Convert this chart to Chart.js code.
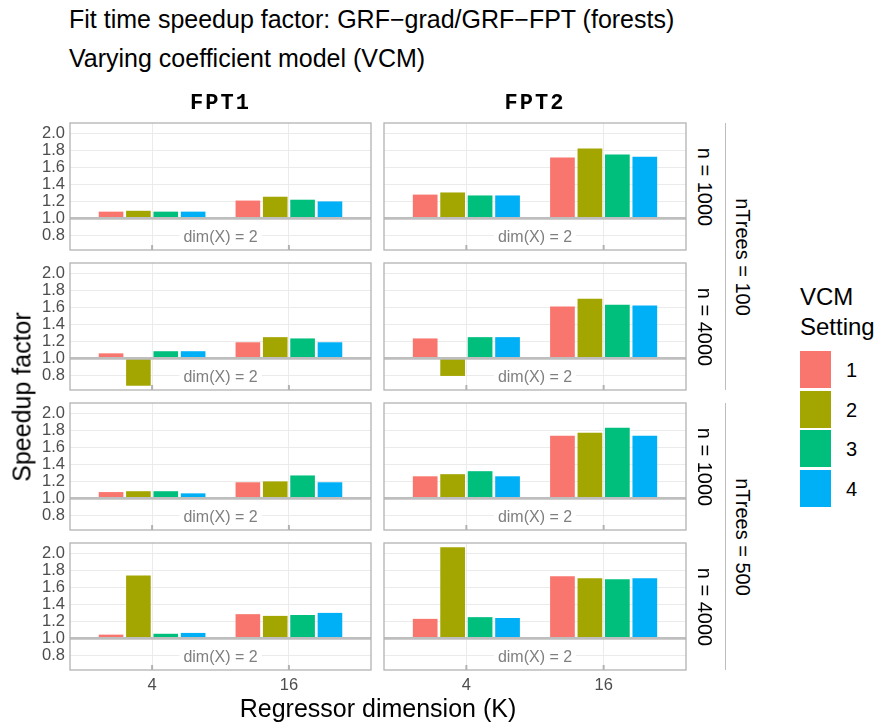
<!DOCTYPE html>
<html><head><meta charset="utf-8">
<script src="https://cdn.jsdelivr.net/npm/chart.js@4"></script>
<style>
html,body{margin:0;padding:0;background:#fff;}
#wrap{position:relative;width:878px;height:726px;overflow:hidden;background:#fff;font-family:"Liberation Sans",Arial,sans-serif;color:#000;}
canvas{position:absolute;}
.t{position:absolute;white-space:nowrap;line-height:1;}
</style></head><body><div id="wrap"></div>
<script>
// ---- data ----
const kCategories = ['4', '16'];
const vcmSettings = ['1', '2', '3', '4'];
const settingColors = ['#F8766D', '#A3A500', '#00BF7D', '#00B0F6'];
const methodLabels = ['FPT1', 'FPT2'];
const nLabels = ['n = 1000', 'n = 4000', 'n = 1000', 'n = 4000'];
const treeLabels = ['nTrees = 100', 'nTrees = 500'];
const yTickValues = [0.8, 1.0, 1.2, 1.4, 1.6, 1.8, 2.0];
const panelNote = 'dim(X) = 2';

// speedup factor, one value per VCM setting 1..4
const t100_n1000_FPT1_K4  = [1.08, 1.09, 1.08, 1.08];
const t100_n1000_FPT1_K16 = [1.21, 1.255, 1.22, 1.20];
const t100_n1000_FPT2_K4  = [1.28, 1.305, 1.27, 1.27];
const t100_n1000_FPT2_K16 = [1.715, 1.82, 1.75, 1.725];
const t100_n4000_FPT1_K4  = [1.06, 0.68, 1.085, 1.085];
const t100_n4000_FPT1_K16 = [1.19, 1.25, 1.235, 1.19];
const t100_n4000_FPT2_K4  = [1.235, 0.795, 1.25, 1.25];
const t100_n4000_FPT2_K16 = [1.61, 1.70, 1.63, 1.62];
const t500_n1000_FPT1_K4  = [1.075, 1.085, 1.085, 1.06];
const t500_n1000_FPT1_K16 = [1.19, 1.20, 1.27, 1.19];
const t500_n1000_FPT2_K4  = [1.26, 1.285, 1.32, 1.26];
const t500_n1000_FPT2_K16 = [1.735, 1.77, 1.83, 1.735];
const t500_n4000_FPT1_K4  = [1.045, 1.74, 1.055, 1.065];
const t500_n4000_FPT1_K16 = [1.285, 1.265, 1.275, 1.30];
const t500_n4000_FPT2_K4  = [1.23, 2.07, 1.25, 1.24];
const t500_n4000_FPT2_K16 = [1.73, 1.705, 1.695, 1.705];

const panels = [
  [[t100_n1000_FPT1_K4, t100_n1000_FPT1_K16], [t100_n1000_FPT2_K4, t100_n1000_FPT2_K16]],
  [[t100_n4000_FPT1_K4, t100_n4000_FPT1_K16], [t100_n4000_FPT2_K4, t100_n4000_FPT2_K16]],
  [[t500_n1000_FPT1_K4, t500_n1000_FPT1_K16], [t500_n1000_FPT2_K4, t500_n1000_FPT2_K16]],
  [[t500_n4000_FPT1_K4, t500_n4000_FPT1_K16], [t500_n4000_FPT2_K4, t500_n4000_FPT2_K16]]
];

// ---- layout ----
const FONT = '"Liberation Sans", Arial, sans-serif';
const rowTops = [123, 263, 403, 543];
const panelH = 127;
const colLeft = [70, 384];
const colW = [301, 302];
const PAD = 16;
const wrap = document.getElementById('wrap');

const panelDeco = {
  id: 'panelDeco',
  afterDatasetsDraw(chart) {
    const {ctx, chartArea: a, scales: {x, y}} = chart;
    ctx.save();
    // reference line at 1
    const yb = y.getPixelForValue(1);
    ctx.strokeStyle = '#BEBEBE'; ctx.lineWidth = 2.7;
    ctx.beginPath(); ctx.moveTo(a.left, yb); ctx.lineTo(a.right, yb); ctx.stroke();
    // note label
    ctx.font = '16px ' + FONT;
    const tx = x.getPixelForValue(1.5), ty = y.getPixelForValue(0.785);
    const w = ctx.measureText(panelNote).width;
    ctx.fillStyle = '#fff';
    ctx.fillRect(tx - w / 2 - 4, ty - 9, w + 8, 18);
    ctx.fillStyle = '#7F7F7F'; ctx.textAlign = 'center'; ctx.textBaseline = 'middle';
    ctx.fillText(panelNote, tx, ty + 1);
    // inner tick marks
    ctx.strokeStyle = '#B3B3B3'; ctx.lineWidth = 2;
    kCategories.forEach((k, j) => {
      const px = x.getPixelForValue(j + 1);
      ctx.beginPath(); ctx.moveTo(px, a.bottom); ctx.lineTo(px, a.bottom - 5); ctx.stroke();
    });
    // panel border
    ctx.strokeStyle = '#B3B3B3'; ctx.lineWidth = 1.3;
    ctx.strokeRect(a.left, a.top, a.right - a.left, a.bottom - a.top);
    ctx.restore();
  }
};

for (let r = 0; r < 4; r++) {
  for (let c = 0; c < 2; c++) {
    const cv = document.createElement('canvas');
    const padL = c === 0 ? 0 : 2;
    const axisW = c === 0 ? 70 : 0;
    const canvasLeft = colLeft[c] - axisW - padL;
    const bottomAxisH = r === 3 ? 30 : 0;
    const W = padL + axisW + colW[c] + 2;
    const H = PAD + panelH + bottomAxisH + PAD;
    cv.width = W; cv.height = H;
    cv.style.left = canvasLeft + 'px';
    cv.style.top = (rowTops[r] - PAD) + 'px';
    wrap.appendChild(cv);
    const vals = panels[r][c];
    const datasets = vcmSettings.map((s, i) => ({
      label: s,
      data: kCategories.map((k, j) => ({x: j + 1, y: vals[j][i]})),
      backgroundColor: settingColors[i],
      borderWidth: 0,
      base: 1,
      categoryPercentage: 0.8,
      barPercentage: 0.9
    }));
    new Chart(cv, {
      type: 'bar',
      data: {datasets},
      options: {
        responsive: false, animation: false, devicePixelRatio: 1,
        layout: {padding: {top: PAD, bottom: PAD, left: padL, right: 2}},
        plugins: {legend: {display: false}, tooltip: {enabled: false}, title: {display: false}},
        scales: {
          x: {
            type: 'linear', min: 0.4, max: 2.6, offset: false,
            grid: {offset: false, color: '#EBEBEB', lineWidth: 1, drawTicks: false},
            border: {display: false},
            afterBuildTicks: s => { s.ticks = kCategories.map((k, j) => ({value: j + 1})); },
            ticks: {display: r === 3, autoSkip: false, maxRotation: 0, padding: 6, color: '#4D4D4D',
                    font: {size: 16.5, family: FONT},
                    callback: v => kCategories[Math.round(v) - 1] ?? ''},
            afterFit: s => { s.height = bottomAxisH; }
          },
          y: {
            min: 0.63, max: 2.12,
            grid: {color: '#EBEBEB', lineWidth: 1, drawTicks: false},
            border: {display: false},
            afterBuildTicks: s => { s.ticks = yTickValues.map(v => ({value: v})); },
            ticks: {display: c === 0, autoSkip: false, padding: 5, color: '#4D4D4D', font: {size: 16.5, family: FONT},
                    callback: v => Number(v).toFixed(1)},
            afterFit: s => { s.width = axisW; }
          }
        }
      },
      plugins: [panelDeco]
    });
  }
}

// ---- text & decorations ----
function addText(txt, x, y, size, opts = {}) {
  const d = document.createElement('div');
  d.className = 't';
  d.textContent = txt;
  d.style.fontSize = size + 'px';
  d.style.left = x + 'px';
  d.style.top = y + 'px';
  if (opts.family) d.style.fontFamily = opts.family;
  if (opts.weight) d.style.fontWeight = opts.weight;
  if (opts.color) d.style.color = opts.color;
  if (opts.ls) d.style.letterSpacing = opts.ls;
  const tx = opts.left ? '0' : '-50%';
  d.style.transform = `translate(${tx},-50%)` + (opts.rot ? ` rotate(${opts.rot}deg)` : '');
  wrap.appendChild(d);
  return d;
}
function addBox(x, y, w, h, color) {
  const d = document.createElement('div');
  d.style.position = 'absolute';
  d.style.left = x + 'px'; d.style.top = y + 'px';
  d.style.width = w + 'px'; d.style.height = h + 'px';
  d.style.background = color;
  wrap.appendChild(d);
}

addText('Fit time speedup factor: GRF\u2212grad/GRF\u2212FPT (forests)', 69, 19, 25, {left: true});
addText('Varying coefficient model (VCM)', 69, 58, 25, {left: true});

methodLabels.forEach((m, c) => {
  addText(m, colLeft[c] + colW[c] / 2, 104, 22, {family: '"Liberation Mono", monospace', weight: 'bold', ls: '2px'});
});
nLabels.forEach((n, r) => {
  addText(n, 705, rowTops[r] + panelH / 2, 20, {rot: 90});
});
treeLabels.forEach((t, g) => {
  const top = rowTops[g * 2], bot = rowTops[g * 2 + 1] + panelH;
  addBox(725, top, 1.3, bot - top, '#BDBDBD');
  addText(t, 743, (top + bot) / 2, 20, {rot: 90});
});

addText('Speedup factor', 22, (rowTops[0] + rowTops[3] + panelH) / 2, 25, {rot: -90});
addText('Regressor dimension (K)', (colLeft[0] + colLeft[1] + colW[1]) / 2, 708, 25);

addText('VCM', 800, 297, 24, {left: true});
addText('Setting', 800, 327, 24, {left: true});
vcmSettings.forEach((s, i) => {
  addBox(800, 351 + i * 39.5, 31, 37, settingColors[i]);
  addText(s, 846, 370 + i * 39.5, 20, {left: true});
});
</script></body></html>
